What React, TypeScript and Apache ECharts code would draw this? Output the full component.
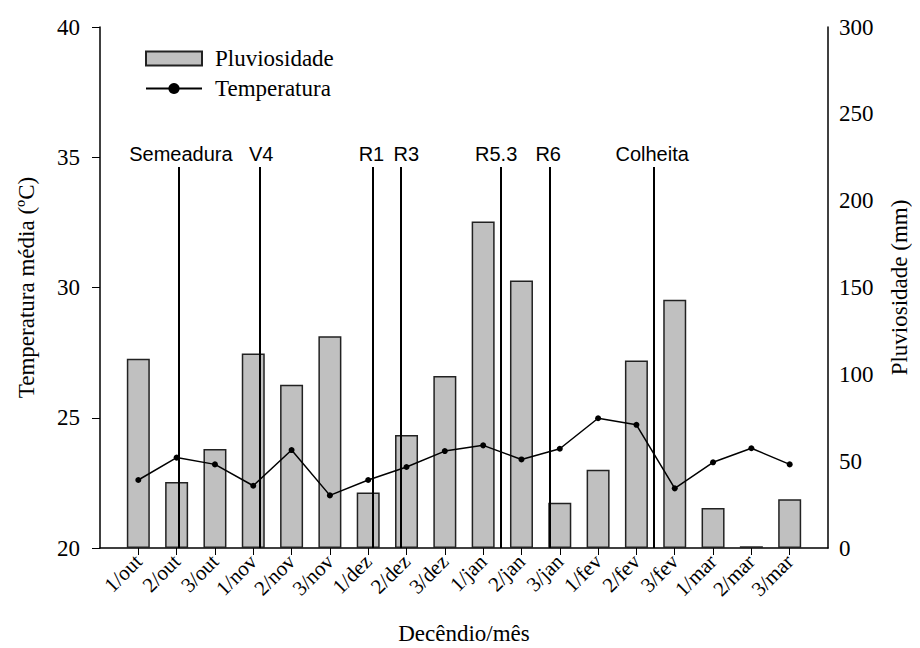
import React, { useEffect, useRef } from "react";
import * as echarts from "echarts";

const categories = ["1/out","2/out","3/out","1/nov","2/nov","3/nov","1/dez","2/dez","3/dez","1/jan","2/jan","3/jan","1/fev","2/fev","3/fev","1/mar","2/mar","3/mar"];
const rainfall = [109, 38, 57, 112, 94, 122, 32, 65, 99, 188, 154, 26, 45, 108, 143, 23, 1, 28];
const temperature = [22.61, 23.47, 23.21, 22.39, 23.76, 22.02, 22.61, 23.11, 23.72, 23.94, 23.40, 23.81, 24.98, 24.73, 22.29, 23.29, 23.83, 23.21];
const stageNames = ["Semeadura", "V4", "R1", "R3", "R5.3", "R6", "Colheita"];
const stagePositions = [2.06, 4.18, 7.11, 7.84, 10.47, 11.75, 14.45];
const stageLabelShift = [4, 2, -2, 12, -10, -4, -3];
const stageTop = 34.63;
const tempTicks = [20, 25, 30, 35, 40];
const rainTicks = [0, 50, 100, 150, 200, 250, 300];

const serif = "'Liberation Serif', 'Times New Roman', serif";
const sans = "'Liberation Sans', Arial, sans-serif";

export default function App() {
  const ref = useRef<HTMLDivElement>(null);
  useEffect(() => {
    if (!ref.current) return;
    const chart = echarts.init(ref.current, undefined, { renderer: "svg" });
    const positions = categories.map((_, i) => i + 1);
    chart.setOption({
      animation: false,
      backgroundColor: "#fff",
      grid: { left: 92, right: 84, top: 19, bottom: 100, containLabel: false, outerBoundsMode: "none" },
      legend: {
        orient: "vertical",
        left: 132,
        top: 34,
        itemWidth: 56,
        itemHeight: 14,
        itemGap: 7,
        textStyle: { fontFamily: serif, fontSize: 23, color: "#000", padding: [0, 0, 0, 8] },
        data: [{ name: "Pluviosidade", icon: "rect" }, { name: "Temperatura" }],
      },
      xAxis: {
        type: "value",
        min: 0,
        max: 19,
        interval: 1,
        splitLine: { show: false },
        axisLine: { show: true, lineStyle: { color: "#000", width: 1.5 } },
        axisTick: { show: true, length: 7, lineStyle: { color: "#000" }, customValues: positions },
        axisLabel: {
          customValues: positions,
          rotate: 45,
          margin: 10,
          fontFamily: serif,
          fontSize: 21,
          color: "#000",
          formatter: (v: number) => categories[Math.round(v) - 1] ?? "",
        },
        name: "Decêndio/mês",
        nameLocation: "middle",
        nameGap: 74,
        nameTextStyle: { fontFamily: serif, fontSize: 23, color: "#000" },
      },
      yAxis: [
        {
          type: "value",
          min: 20,
          max: 40,
          interval: 5,
          position: "left",
          splitLine: { show: false },
          axisLine: { show: true, lineStyle: { color: "#000", width: 1.5 } },
          axisTick: { show: true, length: 8, lineStyle: { color: "#000" } },
          axisLabel: {
            margin: 20,
            fontFamily: serif,
            fontSize: 23,
            color: "#000",
            customValues: tempTicks,
          },
          name: "Temperatura média (ºC)",
          nameLocation: "middle",
          nameGap: 62,
          nameRotate: 90,
          nameTextStyle: { fontFamily: serif, fontSize: 23, color: "#000" },
        },
        {
          type: "value",
          min: 0,
          max: 300,
          interval: 50,
          position: "right",
          splitLine: { show: false },
          axisLine: { show: true, lineStyle: { color: "#000", width: 1.5 } },
          axisTick: { show: false },
          axisLabel: {
            margin: 11,
            fontFamily: serif,
            fontSize: 23,
            color: "#000",
            customValues: rainTicks,
          },
          name: "Pluviosidade (mm)",
          nameLocation: "middle",
          nameGap: 60,
          nameRotate: 90,
          nameTextStyle: { fontFamily: serif, fontSize: 23, color: "#000" },
        },
      ],
      series: [
        {
          name: "Pluviosidade",
          type: "bar",
          yAxisIndex: 1,
          barWidth: 23,
          itemStyle: { color: "#c0c0c0", borderColor: "#222", borderWidth: 1.5 },
          data: rainfall.map((v, i) => [i + 1, v]),
        },
        {
          name: "Temperatura",
          type: "line",
          yAxisIndex: 0,
          symbol: "circle",
          symbolSize: 6,
          lineStyle: { color: "#000", width: 1.5 },
          itemStyle: { color: "#000" },
          data: temperature.map((v, i) => [i + 1, v]),
          markLine: {
            silent: true,
            symbol: ["none", "none"],
            lineStyle: { color: "#000", width: 2, type: "solid" },
            label: {
              show: true,
              position: "start",
              formatter: "{b}",
              fontFamily: sans,
              fontSize: 20,
              color: "#000",
              distance: 3,
            },
            data: stagePositions.map((x, i) => {
              const s = stageLabelShift[i];
              return [
                {
                  coord: [x, stageTop],
                  name: stageNames[i],
                  label: { padding: s >= 0 ? [0, 0, 0, s] : [0, -s, 0, 0] },
                },
                { coord: [x, 20] },
              ];
            }),
          },
        },
      ],
    });
    return () => chart.dispose();
  }, []);
  return <div ref={ref} style={{ width: 904, height: 640 }} />;
}
